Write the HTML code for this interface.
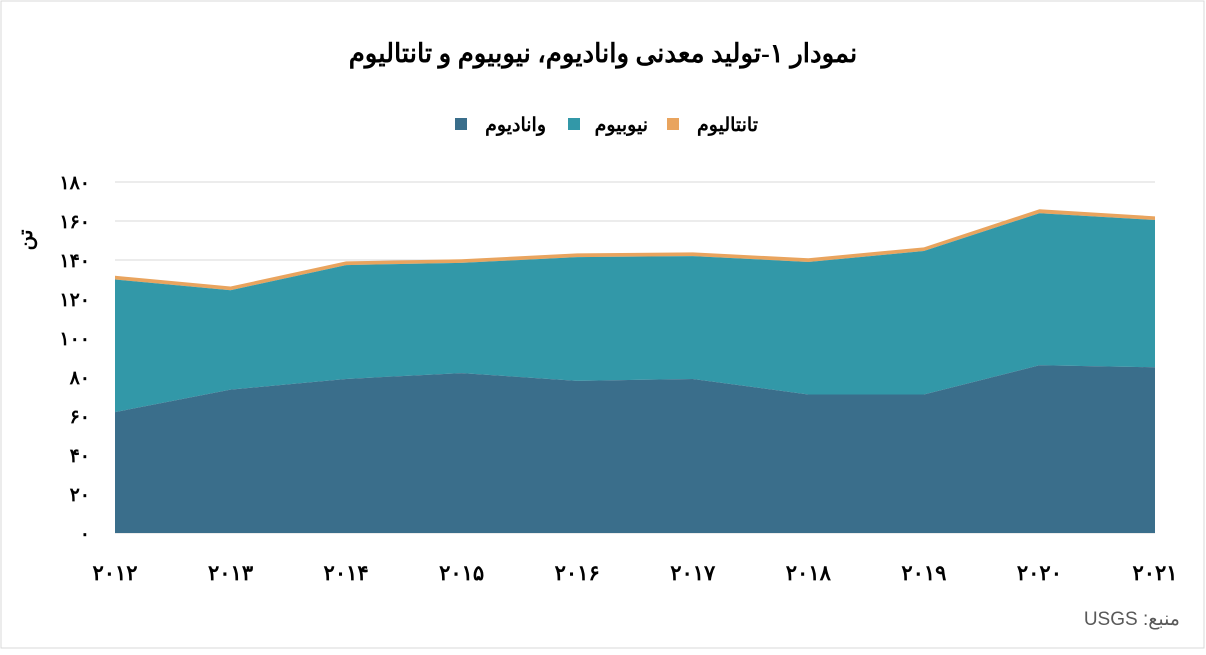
<!DOCTYPE html>
<html><head><meta charset="utf-8"><style>
body{margin:0;background:#fff;}
#wrap{position:relative;width:1206px;height:650px;font-family:"Liberation Serif","Noto Serif CJK SC","DejaVu Serif",serif;}
</style></head><body>
<div id="wrap">
<svg id="chart" width="1206" height="650" xmlns="http://www.w3.org/2000/svg">
<rect x="1" y="1" width="1203" height="647" fill="#fff" stroke="#d9d9d9"/>
<text x="603" y="62" text-anchor="middle" font-size="26" font-weight="bold" fill="#000" direction="rtl">نمودار ۱-تولید معدنی وانادیوم، نیوبیوم و تانتالیوم</text>
<g id="legend">
<rect x="455" y="118" width="12" height="12" fill="#3a6e8b"/>
<text x="546" y="131" text-anchor="start" font-size="19" font-weight="bold" direction="rtl">وانادیوم</text>
<rect x="568" y="118" width="12" height="12" fill="#3298a8"/>
<text x="648" y="131" text-anchor="start" font-size="19" font-weight="bold" direction="rtl">نیوبیوم</text>
<rect x="667" y="118" width="12" height="12" fill="#e9a45e"/>
<text x="758" y="131" text-anchor="start" font-size="19" font-weight="bold" direction="rtl">تانتالیوم</text>
</g>
<text transform="translate(32,240) rotate(-90)" text-anchor="middle" font-size="20" font-weight="bold">تن</text>
<g id="grid"></g><g id="areas"></g><g id="xlabels"></g><g id="ylabels"></g>
<text x="1180" y="625" text-anchor="start" direction="rtl" font-family="Liberation Sans, DejaVu Sans, sans-serif" font-size="19" fill="#595959">منبع: USGS</text>
</svg>
</div>
<script>
const years=["۲۰۱۲","۲۰۱۳","۲۰۱۴","۲۰۱۵","۲۰۱۶","۲۰۱۷","۲۰۱۸","۲۰۱۹","۲۰۲۰","۲۰۲۱"];
const vanadium=[62,73.5,79,82,78,79,71,71,86,85];
const niobium=[68,51,58.4,56.5,63.5,63,68,73.6,78,75.5];
const tantalum=[1.9,1.9,1.9,1.9,1.9,1.9,1.9,1.9,2,1.9];
const yTicks=[0,20,40,60,80,100,120,140,160,180];
const yTickLabels=["۰","۲۰","۴۰","۶۰","۸۰","۱۰۰","۱۲۰","۱۴۰","۱۶۰","۱۸۰"];
const NS="http://www.w3.org/2000/svg";
const x0=115,x1=1155,y0=533,y1=182;
function xs(i){return x0+(x1-x0)*i/(years.length-1);}
function ys(v){return y0-(y0-y1)*v/180;}
const grid=document.getElementById('grid');
yTicks.forEach((t,i)=>{
 const l=document.createElementNS(NS,'line');
 l.setAttribute('x1',x0);l.setAttribute('x2',x1);l.setAttribute('y1',ys(t));l.setAttribute('y2',ys(t));
 l.setAttribute('stroke','#d9d9d9');
 
 
 grid.appendChild(l);
 const tx=document.createElementNS(NS,'text');
 tx.setAttribute('x',90);tx.setAttribute('y',ys(t)+7);tx.setAttribute('text-anchor','end');
 tx.setAttribute('font-size','19');tx.setAttribute('font-weight','bold');
 tx.textContent=yTickLabels[i];
 
 
 document.getElementById('ylabels').appendChild(tx);
});
const s1=vanadium, s2=vanadium.map((v,i)=>v+niobium[i]), s3=s2.map((v,i)=>v+tantalum[i]);
function area(lo,hi,color,name){
 let d='M'+xs(0)+','+ys(hi[0]);
 for(let i=1;i<hi.length;i++)d+='L'+xs(i)+','+ys(hi[i]);
 for(let i=lo.length-1;i>=0;i--)d+='L'+xs(i)+','+ys(lo[i]);
 d+='Z';
 const p=document.createElementNS(NS,'path');
 p.setAttribute('d',d);p.setAttribute('fill',color);
 
 
 document.getElementById('areas').appendChild(p);
}
const zero=vanadium.map(()=>0);
area(s2,s3,'#e9a45e','area-tantalum');
area(s1,s2,'#3298a8','area-niobium');
area(zero,s1,'#3a6e8b','area-vanadium');
years.forEach((y,i)=>{
 const t=document.createElementNS(NS,'text');
 t.setAttribute('x',xs(i));t.setAttribute('y',580);t.setAttribute('text-anchor','middle');
 t.setAttribute('font-size','21');t.setAttribute('font-weight','bold');
 t.textContent=y;
 
 
 document.getElementById('xlabels').appendChild(t);
});
</script>
</body></html>
